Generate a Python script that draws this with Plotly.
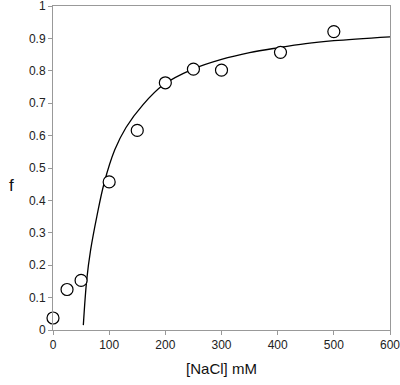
import plotly.graph_objects as go

# measured data points
nacl_mM = [0, 25, 50, 100, 150, 200, 250, 300, 405, 500]
f_obs = [0.037, 0.125, 0.153, 0.457, 0.616, 0.763, 0.805, 0.802, 0.857, 0.921]

# fitted curve
fit_x = [54, 60, 67, 78, 91, 110, 130, 160, 196, 249, 300, 350, 400, 450, 500, 600]
fit_y = [0.015, 0.154, 0.247, 0.35, 0.453, 0.556, 0.625, 0.695, 0.756, 0.805,
         0.835, 0.856, 0.871, 0.884, 0.893, 0.905]

x_ticks = [0, 100, 200, 300, 400, 500, 600]
y_ticks = [0, 0.1, 0.2, 0.3, 0.4, 0.5, 0.6, 0.7, 0.8, 0.9, 1]
y_tick_text = ["0", "0.1", "0.2", "0.3", "0.4", "0.5", "0.6", "0.7", "0.8", "0.9", "1"]

FONT = "Liberation Sans, Arial, sans-serif"

fig = go.Figure()
fig.add_trace(go.Scatter(x=fit_x, y=fit_y, mode="lines",
                         line=dict(color="black", width=1.3, shape="spline", smoothing=1),
                         showlegend=False, hoverinfo="skip"))
fig.add_trace(go.Scatter(x=nacl_mM, y=f_obs, mode="markers", cliponaxis=False,
                         marker=dict(symbol="circle", size=12, color="white", line=dict(color="black", width=1.2)),
                         showlegend=False))

axis_font = dict(family=FONT, size=12, color="#222")
fig.update_layout(
    width=400, height=385,
    margin=dict(l=53, r=10, t=6, b=55),
    paper_bgcolor="white", plot_bgcolor="white",
    font=axis_font,
    xaxis=dict(range=[0, 600], tickvals=x_ticks, ticks="outside", ticklen=4, tickcolor="#999",
               showline=True, linecolor="#999", linewidth=1, mirror=True, showgrid=False, zeroline=False,
               tickfont=axis_font, automargin=False, ticklabeloverflow="allow",
               title=dict(text="[NaCl] mM", font=dict(family=FONT, size=15, color="#111"), standoff=12)),
    yaxis=dict(range=[0, 1], tickvals=y_ticks, ticktext=y_tick_text, ticks="outside", ticklen=4, tickcolor="#999",
               showline=True, linecolor="#999", linewidth=1, mirror=True, showgrid=False, zeroline=False,
               tickfont=axis_font, automargin=False, ticklabeloverflow="allow"),
    annotations=[dict(text="f", x=-(53 - 11) / 337.0, y=(330 - 185) / 324.0, xref="paper", yref="paper",
                      xanchor="center", yanchor="middle", showarrow=False,
                      font=dict(family=FONT, size=17, color="#111"))],
)
fig.write_html("out.html", config={"displayModeBar": False},
               post_script="document.body.style.margin='0';document.body.style.padding='0';")
